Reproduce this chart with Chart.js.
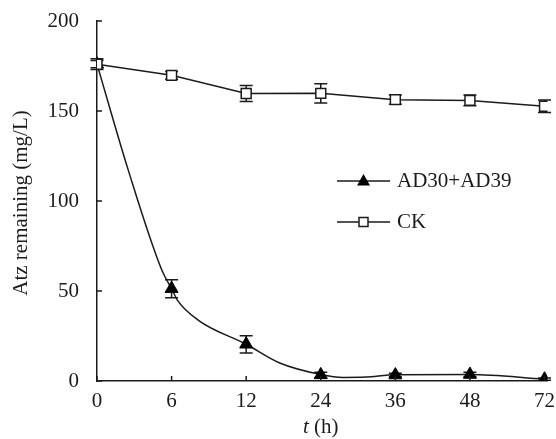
<!DOCTYPE html>
<html>
<head>
<meta charset="utf-8">
<script src="https://cdn.jsdelivr.net/npm/chart.js@4"></script>
<style>
html,body{margin:0;padding:0;background:#fff;}
canvas{display:block;}
</style>
</head>
<body>
<canvas id="c" width="556" height="439"></canvas>
<script>
// ---- data ----
const hours = ['0', '6', '12', '24', '36', '48', '72'];
const adMean = [176, 51.3, 20.4, 3.4, 3.3, 3.6, 1.0];
const adErr  = [2, 5, 4.8, 1.5, 1, 1.2, 0.6];
const ckMean = [176, 169.8, 159.7, 159.8, 156.3, 155.9, 152.6];
const ckErr  = [3, 2.2, 4.4, 5.3, 2.6, 3, 3.5];
// smoothed trend line of AD30+AD39 (positions on the category axis, values as read)
const adCurvePos = [0, 0.42, 0.87, 1, 1.08, 1.36, 2, 2.45, 3, 3.3, 3.6, 4, 5, 6];
const adCurveVal = [176, 117, 61.5, 51.3, 44.8, 33.7, 20.4, 10, 3.6, 2, 2.2, 3.5, 3.6, 1];
const yTicks = [0, 50, 100, 150, 200];
const seriesNames = ['AD30+AD39', 'CK'];
const yTitle = 'Atz remaining (mg/L)';

const INK = '#1b1b1b';
const FONT = '"Liberation Serif", "Times New Roman", serif';
const FS = 21;

const pts = (vals) => vals.map((v, i) => ({x: i, y: v}));

const errorBars = {
  id: 'errorBars',
  beforeDatasetsDraw(chart) {
    const {ctx, scales: {x, y}} = chart;
    ctx.save();
    ctx.strokeStyle = INK;
    ctx.lineWidth = 1.5;
    const draw = (means, errs) => {
      means.forEach((m, i) => {
        const px = x.getPixelForValue(i);
        const top = y.getPixelForValue(m + errs[i]);
        const bot = y.getPixelForValue(m - errs[i]);
        ctx.beginPath();
        ctx.moveTo(px, top); ctx.lineTo(px, bot);
        ctx.moveTo(px - 6.5, top); ctx.lineTo(px + 6.5, top);
        ctx.moveTo(px - 6.5, bot); ctx.lineTo(px + 6.5, bot);
        ctx.stroke();
      });
    };
    draw(ckMean, ckErr);
    draw(adMean, adErr);
    ctx.restore();
  }
};

const axesDeco = {
  id: 'axesDeco',
  afterDraw(chart) {
    const {ctx, scales: {x, y}, chartArea: ca} = chart;
    ctx.save();
    ctx.strokeStyle = INK;
    ctx.lineWidth = 1.5;
    ctx.beginPath();
    yTicks.forEach(v => {
      const py = y.getPixelForValue(v);
      ctx.moveTo(ca.left, py); ctx.lineTo(ca.left + 5, py);
    });
    hours.forEach((h, i) => {
      const px = x.getPixelForValue(i);
      ctx.moveTo(px, ca.bottom); ctx.lineTo(px, ca.bottom - 5);
    });
    ctx.stroke();

    ctx.fillStyle = INK;
    ctx.textBaseline = 'middle';

    // y-axis title
    ctx.save();
    ctx.translate(21, (ca.top + ca.bottom) / 2 + 2);
    ctx.rotate(-Math.PI / 2);
    ctx.textAlign = 'center';
    ctx.font = FS + 'px ' + FONT;
    ctx.fillText(yTitle, 0, 0);
    ctx.restore();

    // x-axis title: italic t + (h)
    ctx.textAlign = 'left';
    const t1 = 't', t2 = ' (h)';
    ctx.font = 'italic ' + FS + 'px ' + FONT;
    const w1 = ctx.measureText(t1).width;
    ctx.font = FS + 'px ' + FONT;
    const w2 = ctx.measureText(t2).width;
    const cx = x.getPixelForValue(3);
    const sx = cx - (w1 + w2) / 2;
    const ty = 427;
    ctx.font = 'italic ' + FS + 'px ' + FONT;
    ctx.fillText(t1, sx, ty);
    ctx.font = FS + 'px ' + FONT;
    ctx.fillText(t2, sx + w1, ty);

    // legend
    const lx0 = 337, lx1 = 390, tx = 397;
    const rows = [181, 222];
    ctx.beginPath();
    rows.forEach(ry => { ctx.moveTo(lx0, ry); ctx.lineTo(lx1, ry); });
    ctx.stroke();
    const mx = (lx0 + lx1) / 2;
    ctx.fillStyle = '#000';
    ctx.beginPath();
    ctx.moveTo(mx, rows[0] - 7);
    ctx.lineTo(mx + 6.5, rows[0] + 4.5);
    ctx.lineTo(mx - 6.5, rows[0] + 4.5);
    ctx.closePath();
    ctx.fill();
    ctx.fillStyle = '#fff';
    ctx.fillRect(mx - 4.5, rows[1] - 4.5, 9, 9);
    ctx.strokeRect(mx - 4.5, rows[1] - 4.5, 9, 9);
    ctx.fillStyle = INK;
    ctx.font = FS + 'px ' + FONT;
    ctx.fillText(seriesNames[0], tx, rows[0]);
    ctx.fillText(seriesNames[1], tx, rows[1]);
    ctx.restore();
  }
};

new Chart(document.getElementById('c'), {
  type: 'scatter',
  data: {
    datasets: [
      {
        label: seriesNames[0] + ' trend',
        data: adCurvePos.map((p, i) => ({x: p, y: adCurveVal[i]})),
        showLine: true,
        borderColor: INK,
        borderWidth: 1.5,
        pointRadius: 0,
        cubicInterpolationMode: 'monotone',
        order: 3
      },
      {
        label: seriesNames[1],
        data: pts(ckMean),
        showLine: true,
        borderColor: INK,
        borderWidth: 1.5,
        pointStyle: 'rect',
        pointRadius: 7,
        pointBackgroundColor: '#fff',
        pointBorderColor: INK,
        pointBorderWidth: 1.5,
        order: 1
      },
      {
        label: seriesNames[0],
        data: pts(adMean),
        showLine: false,
        pointStyle: 'triangle',
        pointRadius: 7.5,
        pointBackgroundColor: '#000',
        pointBorderColor: '#000',
        pointBorderWidth: 1,
        order: 2
      }
    ]
  },
  options: {
    responsive: false,
    animation: false,
    devicePixelRatio: 1,
    layout: {padding: {left: 46, right: 0, top: 21, bottom: 18}},
    plugins: {legend: {display: false}, tooltip: {enabled: false}},
    scales: {
      x: {
        type: 'linear',
        min: 0,
        max: 6.04,
        afterBuildTicks: (s) => { s.ticks = hours.map((h, i) => ({value: i})); },
        afterFit: (s) => { s.height = 40; s.paddingLeft = 0; s.paddingRight = 0; },
        ticks: {
          callback: (v) => hours[v],
          font: {family: FONT, size: FS},
          color: INK,
          padding: 8,
          maxRotation: 0,
          autoSkip: false
        },
        grid: {drawOnChartArea: false, drawTicks: false},
        border: {display: true, color: INK, width: 1.5}
      },
      y: {
        min: 0,
        max: 200,
        afterBuildTicks: (s) => { s.ticks = yTicks.map(v => ({value: v})); },
        afterFit: (s) => { s.width = 51; s.paddingTop = 0; s.paddingBottom = 0; },
        ticks: {
          font: {family: FONT, size: FS},
          color: INK,
          padding: 18
        },
        grid: {drawOnChartArea: false, drawTicks: false},
        border: {display: true, color: INK, width: 1.5}
      }
    }
  },
  plugins: [errorBars, axesDeco]
});
</script>
</body>
</html>
